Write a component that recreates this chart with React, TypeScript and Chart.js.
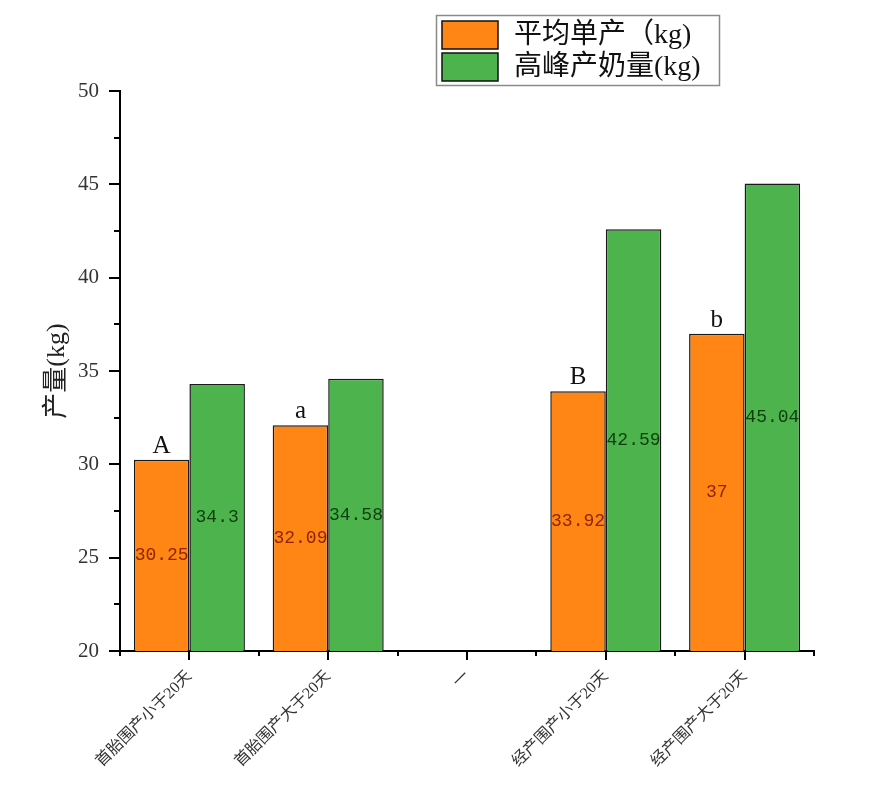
import React, { useEffect, useRef } from "react";
import { Chart, registerables } from "chart.js";

Chart.register(...registerables);

const categories = ["首胎围产小于20天", "首胎围产大于20天", "一", "经产围产小于20天", "经产围产大于20天"];
const avgYield: (number | null)[] = [30.25, 32.09, null, 33.92, 37];
const peakYield: (number | null)[] = [34.3, 34.58, null, 42.59, 45.04];
const sigLetters: (string | null)[] = ["A", "a", null, "B", "b"];
const seriesNames = ["平均单产（kg)", "高峰产奶量(kg)"];
const yMin = 20;
const yMax = 50;
const yMajorStep = 5;
const yMinorStep = 2.5;

const ORANGE = "#FF8514";
const GREEN = "#4DB34D";
const SERIF = '"Liberation Serif", "Noto Sans CJK SC", serif';

const overlayPlugin = {
  id: "overlay",
  afterDatasetsDraw(chart: any) {
    const ctx = chart.ctx as CanvasRenderingContext2D;
    const { left, right, bottom } = chart.chartArea;
    const ys = chart.scales.y;
    const xs = chart.scales.x;
    ctx.save();
    // value labels
    const labelColors = ["#8E2400", "#0C3F0C"];
    chart.data.datasets.forEach((ds: any, di: number) => {
      const meta = chart.getDatasetMeta(di);
      meta.data.forEach((bar: any, i: number) => {
        const v = ds.data[i];
        if (v === null || v === undefined) return;
        const base = Math.min(bar.base, bottom);
        ctx.font = '18px "Liberation Mono", monospace';
        ctx.fillStyle = labelColors[di];
        ctx.textAlign = "center";
        ctx.textBaseline = "middle";
        ctx.fillText(String(v), bar.x, (bar.y + base) / 2);
        if (di === 0 && sigLetters[i]) {
          ctx.font = "25px " + SERIF;
          ctx.fillStyle = "#111";
          ctx.textBaseline = "alphabetic";
          ctx.fillText(sigLetters[i] as string, bar.x, bar.y - 7);
        }
      });
    });
    // y ticks
    ctx.strokeStyle = "#000";
    ctx.lineWidth = 2;
    for (let v = yMin; v <= yMax + 1e-6; v += yMinorStep) {
      const py = Math.round(ys.getPixelForValue(v));
      const len = Math.abs(v / yMajorStep - Math.round(v / yMajorStep)) < 1e-6 ? 11 : 6;
      ctx.beginPath();
      ctx.moveTo(left - len, py);
      ctx.lineTo(left, py);
      ctx.stroke();
    }
    // x ticks
    const n = categories.length;
    for (let i = 0; i < n; i++) {
      const px = Math.round(xs.getPixelForValue(i));
      ctx.beginPath();
      ctx.moveTo(px, bottom);
      ctx.lineTo(px, bottom + 9);
      ctx.stroke();
    }
    for (let i = 0; i <= n; i++) {
      let px: number;
      if (i === 0) px = left;
      else if (i === n) px = right;
      else px = (xs.getPixelForValue(i - 1) + xs.getPixelForValue(i)) / 2;
      px = Math.round(px);
      ctx.beginPath();
      ctx.moveTo(px, bottom);
      ctx.lineTo(px, bottom + 5);
      ctx.stroke();
    }
    // legend
    ctx.strokeStyle = "#8a8a8a";
    ctx.lineWidth = 1.5;
    ctx.strokeRect(436.5, 15.5, 283, 70);
    const rows = [21, 53];
    chart.data.datasets.forEach((ds: any, di: number) => {
      ctx.fillStyle = ds.backgroundColor;
      ctx.fillRect(442, rows[di], 56, 28);
      ctx.strokeStyle = "#111";
      ctx.lineWidth = 1.5;
      ctx.strokeRect(442, rows[di], 56, 28);
      ctx.fillStyle = "#111";
      ctx.font = "28px " + SERIF;
      ctx.textAlign = "left";
      ctx.textBaseline = "middle";
      ctx.fillText(ds.label, 514, rows[di] + 15);
    });
    ctx.restore();
  },
};

export default function App() {
  const ref = useRef<HTMLCanvasElement | null>(null);
  useEffect(() => {
    if (!ref.current) return;
    const chart = new Chart(ref.current, {
      type: "bar",
      data: {
        labels: categories,
        datasets: [
          {
            label: seriesNames[0],
            data: avgYield,
            backgroundColor: ORANGE,
            borderColor: "#1a1a1a",
            borderWidth: 1.5,
            borderSkipped: false,
          },
          {
            label: seriesNames[1],
            data: peakYield,
            backgroundColor: GREEN,
            borderColor: "#1a1a1a",
            borderWidth: 1.5,
            borderSkipped: false,
          },
        ],
      } as any,
      options: {
        responsive: false,
        animation: false,
        layout: { padding: { top: 91, right: 60, left: 0, bottom: 0 } },
        datasets: { bar: { categoryPercentage: 0.8, barPercentage: 1 } } as any,
        plugins: { legend: { display: false }, tooltip: { enabled: false } },
        scales: {
          x: {
            type: "category",
            offset: true,
            grid: { display: false, drawTicks: false },
            border: { display: true, color: "#000", width: 2 },
            ticks: {
              maxRotation: 45,
              minRotation: 45,
              autoSkip: false,
              padding: 16,
              color: "#333",
              font: { family: SERIF, size: 16 },
            },
            afterFit(scale: any) {
              scale.height = 157;
            },
          },
          y: {
            min: yMin,
            max: yMax,
            grid: { display: false, drawTicks: false },
            border: { display: true, color: "#000", width: 2 },
            ticks: {
              stepSize: yMajorStep,
              padding: 21,
              color: "#333",
              font: { family: SERIF, size: 21 },
            },
            title: {
              display: true,
              text: "产量(kg)",
              color: "#222",
              font: { family: SERIF, size: 26 },
              padding: { top: 42, bottom: 0 },
            },
            afterFit(scale: any) {
              scale.width = 120;
            },
          },
        },
      } as any,
      plugins: [overlayPlugin],
    });
    return () => chart.destroy();
  }, []);
  return (
    <div style={{ position: "absolute", left: 0, top: 0, width: 874, height: 808, background: "#fff" }}>
      <canvas ref={ref} width={874} height={808} />
    </div>
  );
}
